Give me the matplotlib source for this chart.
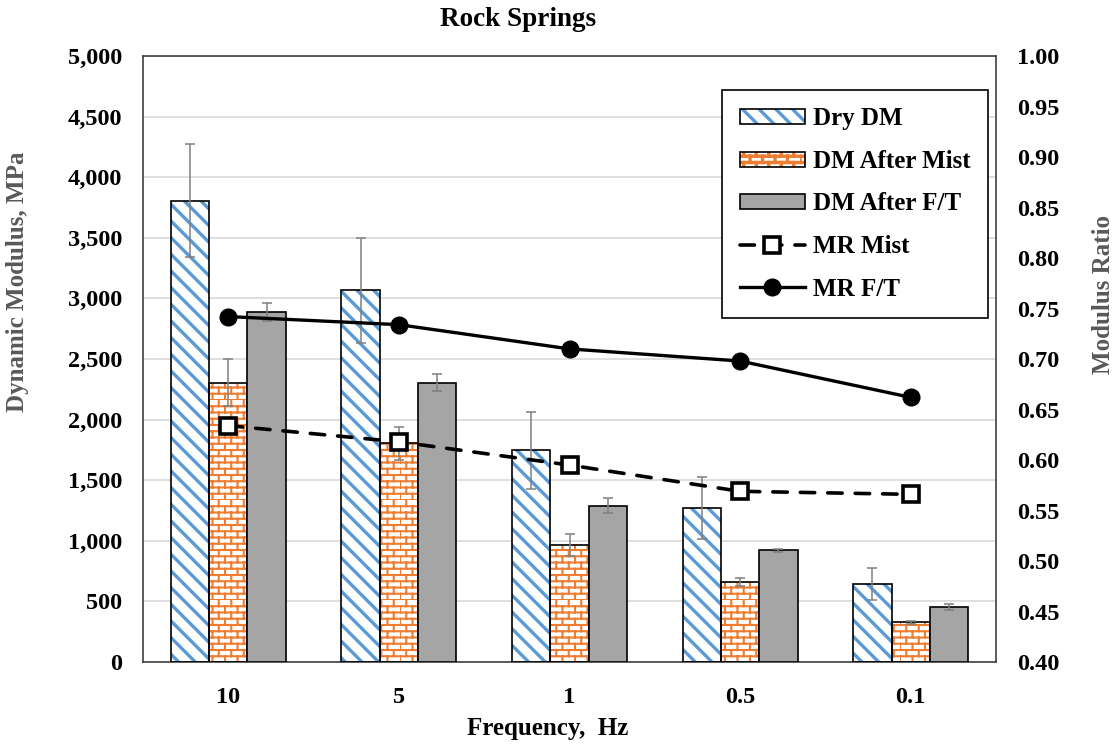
import numpy as np
import matplotlib
matplotlib.use("Agg")
import matplotlib.pyplot as plt
from matplotlib import hatch as mhatch
from matplotlib.path import Path
from matplotlib.patches import Patch
from matplotlib.legend_handler import HandlerTuple

# ---------------- data ----------------
frequencies = ["10", "5", "1", "0.5", "0.1"]
dry_dm = [3804, 3067, 1747, 1268, 641]
dry_err = [466, 435, 319, 256, 132]
mist_dm = [2305, 1805, 963, 663, 327]
mist_err = [195, 135, 90, 33, 13]
ft_dm = [2888, 2305, 1290, 921, 454]
ft_err = [75, 70, 60, 15, 25]
mr_mist = [0.634, 0.618, 0.595, 0.569, 0.566]
mr_ft = [0.742, 0.734, 0.710, 0.698, 0.662]

left_ticks = [0, 500, 1000, 1500, 2000, 2500, 3000, 3500, 4000, 4500, 5000]
right_ticks = [0.40, 0.45, 0.50, 0.55, 0.60, 0.65, 0.70, 0.75, 0.80, 0.85, 0.90, 0.95, 1.00]

BLUE = "#5B9BD5"
ORANGE = "#ED7D31"
GRAY = "#A5A5A5"
LABEL_GRAY = "#595959"


# ---------------- brick hatch (replaces small-circle 'o' hatch) ----------------
class BrickHatch(mhatch.HatchPatternBase):
    def __init__(self, hatch, density):
        self.rows = 16
        self.cols = 8
        if "o" in hatch:
            self.num_vertices = 2 * self.rows + 2 * self.rows * self.cols
        else:
            self.num_vertices = 0

    def set_vertices_and_codes(self, vertices, codes):
        R, C = self.rows, self.cols
        k = 0
        for i in range(R):
            y = i / R
            vertices[k] = (0.0, y)
            vertices[k + 1] = (1.0, y)
            codes[k] = Path.MOVETO
            codes[k + 1] = Path.LINETO
            k += 2
        for i in range(R):
            y0, y1 = i / R, (i + 1) / R
            off = 0.5 / C if i % 2 else 0.0
            for j in range(C):
                xx = j / C + off
                vertices[k] = (xx, y0)
                vertices[k + 1] = (xx, y1)
                codes[k] = Path.MOVETO
                codes[k + 1] = Path.LINETO
                k += 2


mhatch._hatch_types = [t for t in mhatch._hatch_types
                       if t is not mhatch.SmallCircles] + [BrickHatch]

plt.rcParams["font.family"] = ["Liberation Serif", "DejaVu Serif"]
plt.rcParams["font.weight"] = "bold"
plt.rcParams["hatch.linewidth"] = 2.4

fig = plt.figure(figsize=(11.2, 7.46), dpi=100)
ax = fig.add_axes([143 / 1120, 1 - 662 / 746, (996 - 143) / 1120, (662 - 56) / 746])
ax2 = ax.twinx()

x = np.arange(len(frequencies))
w = 0.225
offs = [-w, 0, w]

err_kw = dict(ecolor="#7F7F7F", elinewidth=1.1, capsize=3.5, capthick=1.1)


def hatched_bars(xpos, vals, errs, color, hatch, hlw):
    with plt.rc_context({"hatch.linewidth": hlw}):
        hb = ax.bar(xpos, vals, w, facecolor="white", edgecolor=color,
                    hatch=hatch, linewidth=0, zorder=2)
        for p in hb:
            if hasattr(p, "set_hatch_linewidth"):
                p.set_hatch_linewidth(hlw)
    ob = ax.bar(xpos, vals, w, fill=False, edgecolor="black", linewidth=1.2,
                yerr=errs, error_kw=err_kw, zorder=3)
    return hb, ob


dry_h, dry_o = hatched_bars(x + offs[0], dry_dm, dry_err, BLUE, "\\\\", 2.4)
mist_h, mist_o = hatched_bars(x + offs[1], mist_dm, mist_err, ORANGE, "o", 1.5)
ft_b = ax.bar(x + offs[2], ft_dm, w, color=GRAY, edgecolor="black", linewidth=1.2,
              yerr=ft_err, error_kw=err_kw, zorder=3)

ax.set_ylim(0, 5000)
ax.set_xlim(-0.5, len(frequencies) - 0.5)
ax.set_yticks(left_ticks)
ax.set_yticklabels([f"{v:,}" for v in left_ticks])
ax.set_xticks(x)
ax.set_xticklabels(frequencies)
ax.tick_params(axis="both", length=0, labelsize=17.5)
ax.tick_params(axis="y", pad=15)
ax.tick_params(axis="x", pad=18)
ax.grid(axis="y", color="#D9D9D9", linewidth=1.2, zorder=0)
ax.set_axisbelow(True)
for s in ax.spines.values():
    s.set_color("#404040")
    s.set_linewidth(1.2)

ax2.set_ylim(0.40, 1.00)
ax2.set_yticks(right_ticks)
ax2.set_yticklabels([f"{v:.2f}" for v in right_ticks])
ax2.tick_params(axis="y", length=0, labelsize=17.5, pad=15)
for s in ax2.spines.values():
    s.set_visible(False)

l_mist, = ax2.plot(x, mr_mist, color="black", linewidth=2.6,
                   linestyle=(0, (4.0, 3.6)), dash_capstyle="round",
                   marker="s", markersize=11, markeredgewidth=2.6,
                   markerfacecolor="white", markeredgecolor="black", zorder=5)
l_ft, = ax2.plot(x, mr_ft, color="black", linewidth=2.4, marker="o",
                 markersize=12, markerfacecolor="black", markeredgecolor="black",
                 zorder=5)

# labels
fig.text(518 / 1120, 1 - 20 / 746, "Rock Springs", ha="center", va="center",
         fontsize=19.5, fontweight="bold")
fig.text(548 / 1120, 1 - 729 / 746, "Frequency,  Hz", ha="center", va="center",
         fontsize=18, fontweight="bold")
fig.text(18 / 1120, 1 - 282 / 746, "Dynamic Modulus, MPa", ha="center", va="center",
         rotation=90, fontsize=18, fontweight="bold", color=LABEL_GRAY)
fig.text(1103 / 1120, 1 - 294 / 746, "Modulus Ratio", ha="center", va="center",
         rotation=90, fontsize=18, fontweight="bold", color=LABEL_GRAY)

# legend
dry_hp = Patch(facecolor="white", edgecolor=BLUE, hatch="\\\\", linewidth=0)
dry_op = Patch(fill=False, edgecolor="black", linewidth=1.2)
mist_hp = Patch(facecolor="white", edgecolor=ORANGE, hatch="o", linewidth=0)
mist_op = Patch(fill=False, edgecolor="black", linewidth=1.2)
ft_p = Patch(facecolor=GRAY, edgecolor="black", linewidth=1.2)
handles = [(dry_hp, dry_op), (mist_hp, mist_op), ft_p, l_mist, l_ft]
labels = ["Dry DM", "DM After Mist", "DM After F/T", "MR Mist", "MR F/T"]
leg = ax2.legend(handles, labels, loc="upper left",
                 bbox_to_anchor=((722 - 143) / 853, 1 - (90 - 56) / 606),
                 handler_map={tuple: HandlerTuple(ndivide=1, pad=0)},
                 prop={"size": 18, "weight": "bold"}, frameon=True, fancybox=False,
                 edgecolor="black", framealpha=1, borderaxespad=0,
                 handlelength=2.6, handleheight=0.55, labelspacing=0.78,
                 handletextpad=0.35, borderpad=0.7)
leg.get_frame().set_linewidth(1.2)
leg.set_zorder(10)

fig.savefig("out.png", dpi=100)
